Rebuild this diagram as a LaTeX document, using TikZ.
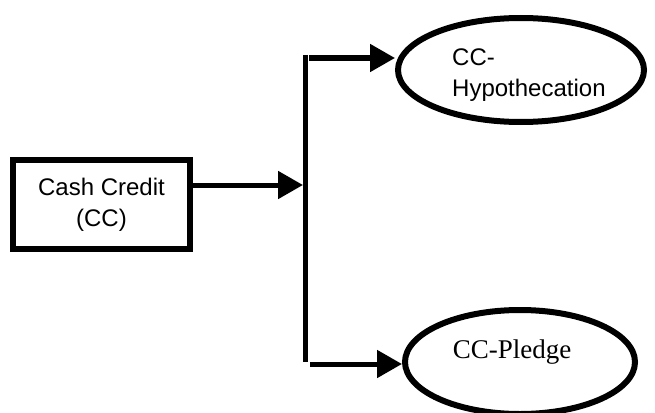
\documentclass[tikz,border=0pt]{standalone}
\usepackage{fontspec}
\setmainfont{Liberation Sans}
\newfontfamily\serifcc{Liberation Serif}
\usetikzlibrary{arrows.meta,shapes.geometric}
\tikzset{
  thick line/.style={line width=5pt},
  arr/.style={line width=5pt,-{Triangle[length=25pt,width=27pt]}},
  boxstyle/.style={draw,line width=6pt,minimum width=177pt,minimum height=89pt,inner sep=0pt,
     align=center,font=\fontsize{24}{31}\selectfont},
  ell/.style={draw,ellipse,line width=6pt,inner sep=0pt},
  lbl/.style={inner sep=0pt,align=left,font=\fontsize{24}{31}\selectfont},
}
\begin{document}
\begin{tikzpicture}[x=1pt,y=-1pt]
\useasboundingbox (0,0) rectangle (655,412);
\node[boxstyle] (box) at (101.5,204.5) {Cash Credit\\(CC)};
\node[ell,minimum width=246pt,minimum height=104pt] (hyp) at (521,70) {};
\node[lbl,anchor=west] (hyptext) at (452,75.5) {CC-\\Hypothecation};
\node[ell,minimum width=230pt,minimum height=104pt] (pl) at (520,362) {};
\node[inner sep=0pt,anchor=base,font=\serifcc\fontsize{27}{31}\selectfont] (pltext) at (512,358) {CC-Pledge};
\coordinate (vt) at (305,55);
\coordinate (vb) at (305,362);
\coordinate (j) at (305,185);
\draw[thick line] (vt) -- (vb);
\draw[arr] (box.east |- j) -- ([xshift=-2pt]j);
\draw[arr] ([xshift=4pt]vt |- 0,58) -- (hyp.west |- 0,58);
\draw[arr] ([xshift=5pt]vb |- 0,364) -- (pl.west |- 0,364);
\end{tikzpicture}
\end{document}
